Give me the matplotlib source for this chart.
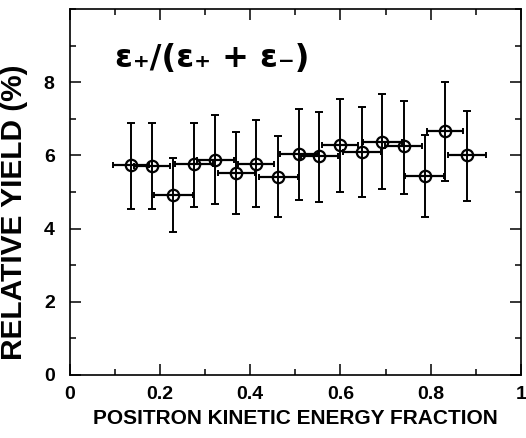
import matplotlib

matplotlib.use("Agg")
import matplotlib.pyplot as plt
from matplotlib.ticker import FixedLocator, MultipleLocator

plt.rcParams.update({
    "font.family": "Liberation Sans",
    "font.weight": "bold",
})

# positron kinetic energy fraction (bin centres) and relative yield (%)
energy = [0.136, 0.182, 0.229, 0.276, 0.322, 0.369, 0.413, 0.462, 0.509,
          0.553, 0.600, 0.647, 0.693, 0.740, 0.787, 0.833, 0.880]
yield_pct = [5.75, 5.71, 4.92, 5.76, 5.89, 5.52, 5.78, 5.42, 6.05,
             5.98, 6.29, 6.10, 6.38, 6.25, 5.45, 6.66, 6.00]
err_up = [1.15, 1.17, 1.01, 1.14, 1.21, 1.13, 1.18, 1.10, 1.22,
          1.21, 1.26, 1.23, 1.30, 1.25, 1.10, 1.34, 1.22]
err_lo = [1.20, 1.16, 1.01, 1.18, 1.21, 1.13, 1.18, 1.11, 1.26,
          1.24, 1.30, 1.24, 1.29, 1.29, 1.14, 1.35, 1.24]
bin_half = [0.040, 0.040, 0.043, 0.042, 0.041, 0.041, 0.040, 0.043, 0.042,
            0.041, 0.040, 0.042, 0.043, 0.042, 0.043, 0.040, 0.042]
xticks = [0, 0.2, 0.4, 0.6, 0.8, 1]
xtick_labels = ["0", "0.2", "0.4", "0.6", "0.8", "1"]
yticks = [0, 2, 4, 6, 8]

fig = plt.figure(figsize=(5.26, 4.38), dpi=100)
ax = fig.add_axes([0.133, 0.144, 0.857, 0.835])

ax.errorbar(energy, yield_pct, yerr=[err_lo, err_up], fmt="none",
            ecolor="black", elinewidth=1.4, capsize=3.2, capthick=1.4)
ax.errorbar(energy, yield_pct, xerr=bin_half, fmt="none",
            ecolor="black", elinewidth=1.6, capsize=2.0, capthick=1.4)
ax.plot(energy, yield_pct, "o", ms=8.2, mfc="none", mec="black", mew=1.6)

ax.set_xlim(0, 1)
ax.set_ylim(0, 10)
ax.xaxis.set_major_locator(FixedLocator(xticks))
ax.set_xticklabels(xtick_labels)
ax.xaxis.set_minor_locator(MultipleLocator(0.1))
ax.yaxis.set_major_locator(FixedLocator(yticks))
ax.yaxis.set_minor_locator(MultipleLocator(1))
ax.tick_params(which="both", direction="in", top=True, right=True,
               labelsize=14, width=1.1)
ax.tick_params(which="major", length=8, pad=8)
ax.tick_params(axis="y", which="major", pad=11)
ax.tick_params(which="minor", length=4.5)
for s in ax.spines.values():
    s.set_linewidth(1.2)

ax.set_xlabel("POSITRON KINETIC ENERGY FRACTION", fontsize=15, fontweight="bold", labelpad=4)
ax.set_ylabel("RELATIVE YIELD (%)", fontsize=21.5, fontweight="bold")
ax.yaxis.set_label_coords(-0.093, 0.445)
ax.text(0.1, 0.865, "ε₊/(ε₊ + ε₋)", family=["DejaVu Sans"], fontweight="bold",
        transform=ax.transAxes, fontsize=23, va="center", ha="left")

fig.savefig("out.png", dpi=100)
